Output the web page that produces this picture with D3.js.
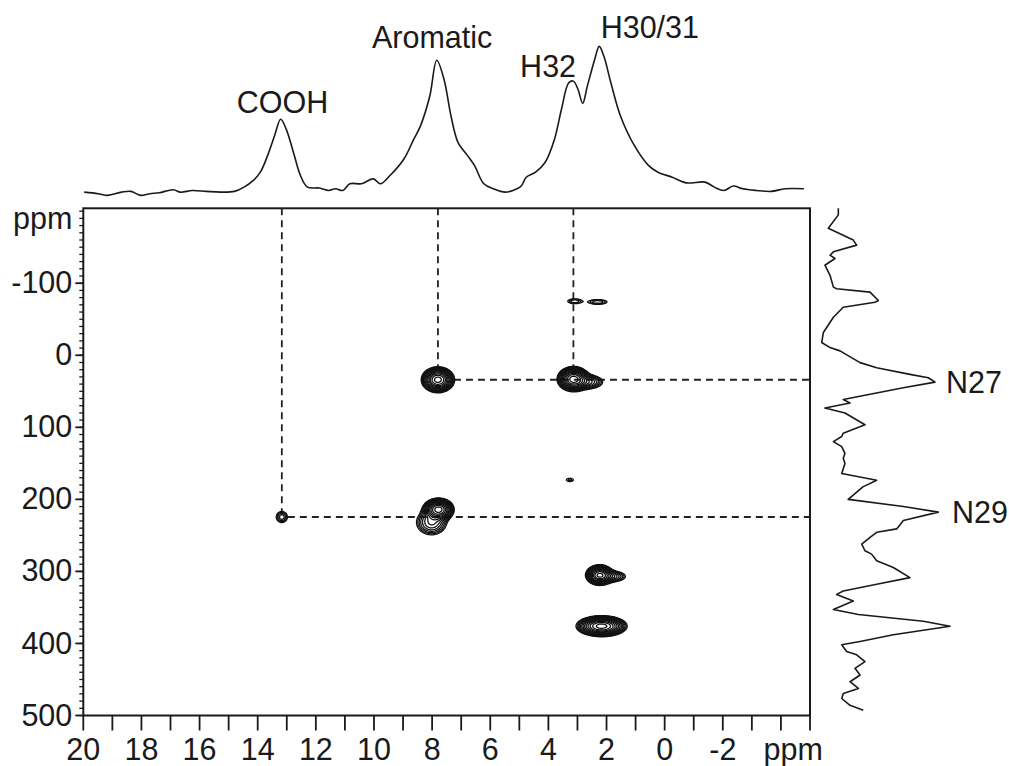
<!DOCTYPE html>
<html>
<head>
<meta charset="utf-8">
<script src="https://cdn.jsdelivr.net/npm/d3@7"></script>
<style>
  html, body { margin: 0; padding: 0; background: #fff; }
  svg text { font-family: "Liberation Sans", Arial, sans-serif; fill: #1a1a1a; }
</style>
</head>
<body>
<svg id="chart" width="1009" height="766"></svg>
<script>
// 1H projection (top trace): chemical shift (ppm) and intensity (a.u.)
const topPpm = [19.97,19.49,19.17,18.68,18.36,18.03,17.71,17.39,16.90,16.66,16.25,15.77,15.28,14.80,14.47,14.15,13.91,13.66,13.42,13.21,13.02,12.77,12.53,12.29,11.88,11.56,11.32,11.07,10.83,10.43,10.02,9.78,9.45,8.97,8.63,8.40,8.08,7.84,7.59,7.35,7.11,6.78,6.54,6.22,5.89,5.49,5.08,4.92,4.76,4.44,4.11,3.79,3.55,3.30,3.14,2.98,2.82,2.66,2.41,2.25,2.09,1.85,1.52,1.04,0.55,0.23,-0.26,-0.74,-1.39,-1.71,-2.04,-2.36,-2.69,-3.17,-3.66,-4.14,-4.79];
const topInt = [4.3,3.3,2.2,4.3,4.8,2.2,3.3,3.9,5.9,4.3,5.4,4.8,4.3,4.8,7.6,12.0,17.4,28.3,41.3,52.2,45.7,30.4,15.2,7.6,7.0,5.4,6.5,5.4,9.8,9.8,13.0,9.8,15.2,26.1,39.1,47.8,67.4,90.9,78.3,54.3,37.0,28.3,21.7,9.8,6.5,4.3,6.5,8.7,14.1,17.4,23.9,39.1,58.7,76.1,77.2,71.7,62.6,73.9,91.3,100,93.5,76.1,54.3,34.8,21.7,17.4,14.1,10.4,10.9,7.6,5.4,8.3,6.5,5.4,4.8,6.5,6.5];

// 15N projection (right trace): chemical shift (ppm) and intensity (a.u.)
const sidePpm = [-204.2,-194.9,-176.2,-159.9,-152.9,-143.6,-138.9,-134.3,-125.0,-111.0,-94.6,-92.3,-87.7,-76.0,-73.7,-66.7,-52.7,-31.7,-17.7,-10.7,-6.1,10.2,17.2,26.5,31.2,37.3,45.2,61.5,66.2,73.2,80.2,96.5,108.1,112.8,119.8,126.8,136.1,143.1,150.1,164.1,173.4,182.7,200.0,209.8,217.7,229.4,241.0,245.7,252.7,262.0,271.3,276.0,285.3,294.6,308.6,317.9,327.3,331.9,341.2,352.9,359.9,369.2,376.2,387.9,397.2,401.8,411.2,415.8,425.2,434.5,443.8,453.1,462.5,469.5,476.4,485.8,492.8];
const sideInt = [14.1,14.1,6.4,25.6,28.2,10.3,7.7,11.5,3.8,7.7,10.3,12.8,38.5,44.9,42.3,17.9,10.3,2.6,1.3,7.7,15.4,30.8,43.6,69.2,83.3,88.5,64.1,17.9,23.1,3.8,19.2,34.6,17.9,16.7,10.3,16.7,19.2,17.9,19.2,16.7,43.6,33.0,21.7,64.1,91.0,64.1,59.0,43.6,38.5,32.1,34.6,39.7,43.6,56.4,69.2,43.6,17.9,12.8,25.6,10.3,29.5,79.5,100,56.4,30.8,16.7,20.5,28.2,34.6,26.9,30.8,23.1,29.5,17.9,16.7,23.1,33.3];

// 1H-15N cross-peak components: 1H shift, 15N shift, relative amplitude, linewidths (ppm)
const crossH   = [7.80, 3.14, 2.65, 7.78, 8.02, 13.17, 2.24, 1.85, 2.17, 3.10, 2.30, 3.26];
const crossN   = [34,   33,   37,   214,  232,  224.5, 305,  307,  376,  -75,  -74,  173];
const crossAmp = [1.0,  1.0,  0.22, 1.0,  0.22, 0.12,  0.9,  0.2,  1.0,  0.1,  0.1,  0.07];
const crossSdH = [0.235,0.23, 0.30, 0.22, 0.30, 0.145, 0.20, 0.30, 0.36, 0.20, 0.27, 0.15];
const crossSdN = [7.4,  7.2,  5.5,  6.5,  10.0, 5.8,   6.0,  4.5,  6.0,  2.8,  2.8,  2.8];

// correlation guides (1H ppm, 15N ppm)
const guideH = [13.17, 7.80, 3.14];
const guideN = [224.5, 34,   34];
const guideHorizH = [7.80, 13.17];
const guideHorizN = [34, 224.5];

// peak assignments
const topLabels = ["COOH", "Aromatic", "H32", "H30/31"];
const sideLabels = ["N27", "N29"];

// axis ticks
const xTickValues = d3.range(20, -5.5, -1);
const xTickLabels = [20, 18, 16, 14, 12, 10, 8, 6, 4, 2, 0, -2];
const yTickLabels = [-100, 0, 100, 200, 300, 400, 500];
const yMinorTicks = d3.range(-200, 501, 10);

const svg = d3.select("#chart");
const L = 83.3, R = 810, T = 208.3, B = 715.5;
const fs = 30.5;

const x = d3.scaleLinear().domain([20, -5]).range([L, R]);
const y = d3.scaleLinear().domain([-204, 500]).range([T, B]);
const ty = d3.scaleLinear().domain([0, 100]).range([198.7, 46.4]);
const sx = d3.scaleLinear().domain([0, 100]).range([820, 950]);

const ink = "#1a1a1a";

// top projection
svg.append("path")
  .datum(topPpm.map((p, i) => [p, topInt[i]]))
  .attr("fill", "none").attr("stroke", ink).attr("stroke-width", 1.6)
  .attr("stroke-linejoin", "round")
  .attr("d", d3.line().x(d => x(d[0])).y(d => ty(d[1])).curve(d3.curveCatmullRom.alpha(0.5)));

// side projection
svg.append("path")
  .datum(sidePpm.map((p, i) => [p, sideInt[i]]))
  .attr("fill", "none").attr("stroke", ink).attr("stroke-width", 1.6)
  .attr("stroke-linejoin", "round")
  .attr("d", d3.line().x(d => sx(d[1])).y(d => y(d[0])));

// dashed correlation guides
const g = svg.append("g").attr("stroke", "#222").attr("stroke-width", 1.8).attr("stroke-dasharray", "7,5");
guideH.forEach((h, i) => {
  const gap = h > 10 ? 6 : 13;
  g.append("line").attr("x1", x(h)).attr("x2", x(h)).attr("y1", T).attr("y2", y(guideN[i]) - gap);
});
guideHorizH.forEach((h, i) => {
  const gap = h > 10 ? 6 : 16;
  g.append("line").attr("x1", x(h) + gap).attr("x2", R).attr("y1", y(guideHorizN[i])).attr("y2", y(guideHorizN[i]));
});

// 2D surface sampled on the pixel grid, then contoured
const nx = Math.ceil(R - L), ny = Math.ceil(B - T);
const values = new Float64Array(nx * ny);
crossH.forEach((h0, k) => {
  const n0 = crossN[k], a = crossAmp[k], sh = crossSdH[k], sn = crossSdN[k];
  const i0 = Math.max(0, Math.floor(x(h0 + 4.5 * sh) - L)), i1 = Math.min(nx - 1, Math.ceil(x(h0 - 4.5 * sh) - L));
  const j0 = Math.max(0, Math.floor(y(n0 - 4.5 * sn) - T)), j1 = Math.min(ny - 1, Math.ceil(y(n0 + 4.5 * sn) - T));
  for (let j = j0; j <= j1; j++) {
    const dn = (y.invert(T + j) - n0) / sn;
    for (let i = i0; i <= i1; i++) {
      const dh = (x.invert(L + i) - h0) / sh;
      values[j * nx + i] += a * Math.exp(-0.5 * (dh * dh + dn * dn));
    }
  }
});
const levels = d3.range(13).map(i => 0.05 * Math.pow(1.27, i));
const contours = d3.contours().size([nx, ny]).thresholds(levels)(values);
svg.append("g")
  .attr("transform", `translate(${L - 0.5},${T - 0.5})`)
  .selectAll("path").data(contours).join("path")
  .attr("fill", "none").attr("stroke", "#111").attr("stroke-width", 1.3)
  .attr("d", d3.geoPath());

// frame
svg.append("rect").attr("x", L).attr("y", T).attr("width", R - L).attr("height", B - T)
  .attr("fill", "none").attr("stroke", ink).attr("stroke-width", 2);

// bottom axis
const xa = svg.append("g");
xa.selectAll("line").data(xTickValues).join("line")
  .attr("x1", d => x(d)).attr("x2", d => x(d)).attr("y1", B).attr("y2", B + 15)
  .attr("stroke", ink).attr("stroke-width", 1.8);
xa.selectAll("text").data(xTickLabels).join("text")
  .attr("x", d => x(d)).attr("y", B + 44).attr("text-anchor", "middle")
  .attr("font-size", fs).text(d => d);
svg.append("text").attr("x", x(-4.42)).attr("y", B + 44).attr("text-anchor", "middle")
  .attr("font-size", fs).text("ppm");

// left axis
const ya = svg.append("g");
ya.selectAll("line.minor").data(yMinorTicks.filter(d => d >= -204)).join("line")
  .attr("x1", L - 4).attr("x2", L).attr("y1", d => y(d)).attr("y2", d => y(d))
  .attr("stroke", ink).attr("stroke-width", 1.3);
ya.selectAll("line.major").data(yTickLabels).join("line")
  .attr("x1", L - 8).attr("x2", L).attr("y1", d => y(d)).attr("y2", d => y(d))
  .attr("stroke", ink).attr("stroke-width", 1.8);
ya.selectAll("text").data(yTickLabels).join("text")
  .attr("x", L - 11).attr("y", d => y(d)).attr("dy", "0.33em").attr("text-anchor", "end")
  .attr("font-size", fs).text(d => d);
svg.append("text").attr("x", L - 11).attr("y", 229).attr("text-anchor", "end")
  .attr("font-size", fs).text("ppm");

// assignments on the 1H projection
const topPos = [[13.15, 112.5], [8.0, 48], [4.01, 77], [0.51, 38.3]];
svg.selectAll("text.top").data(topLabels).join("text").attr("class", "top")
  .attr("x", (d, i) => x(topPos[i][0])).attr("y", (d, i) => topPos[i][1])
  .attr("text-anchor", "middle").attr("font-size", fs).text(d => d);

// assignments on the 15N projection
const sidePos = [[946, 37.3], [952, 217.7]];
svg.selectAll("text.side").data(sideLabels).join("text").attr("class", "side")
  .attr("x", (d, i) => sidePos[i][0]).attr("y", (d, i) => y(sidePos[i][1]))
  .attr("dy", "0.36em").attr("text-anchor", "start").attr("font-size", fs).text(d => d);
</script>
</body>
</html>
